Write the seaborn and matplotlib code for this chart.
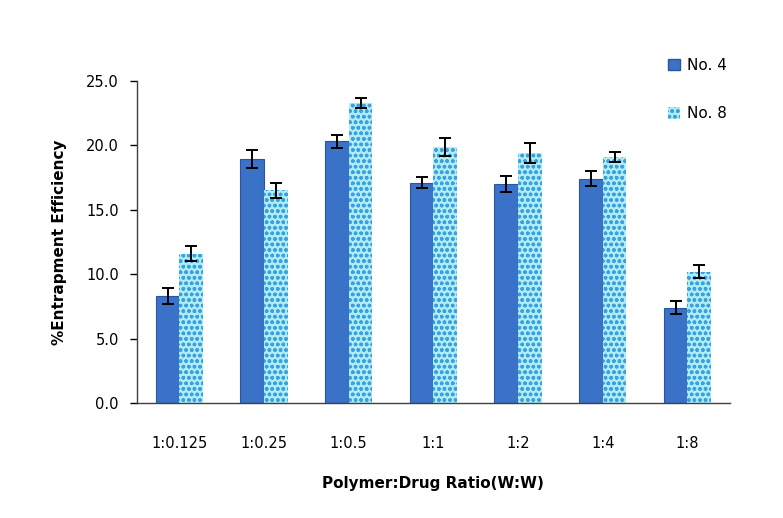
import numpy as np
import pandas as pd
import matplotlib
matplotlib.use("Agg")
import matplotlib.pyplot as plt
import seaborn as sns
from matplotlib.patches import Patch

# values
ratios = ["1:0.125", "1:0.25", "1:0.5", "1:1", "1:2", "1:4", "1:8"]
no4 = [8.3, 18.9, 20.3, 17.1, 17.0, 17.4, 7.4]
no8 = [11.6, 16.5, 23.3, 19.9, 19.4, 19.1, 10.2]
no4_err = [0.6, 0.7, 0.5, 0.4, 0.6, 0.6, 0.5]
no8_err = [0.6, 0.6, 0.4, 0.7, 0.8, 0.4, 0.5]

df = pd.DataFrame({
    "ratio": ratios * 2,
    "batch": ["No. 4"] * len(ratios) + ["No. 8"] * len(ratios),
    "ee": no4 + no8,
})

sns.set_style("white")
plt.rcParams["font.family"] = ["DejaVu Sans"]
plt.rcParams["text.color"] = "black"
plt.rcParams["axes.labelcolor"] = "black"
plt.rcParams["xtick.color"] = "black"
plt.rcParams["ytick.color"] = "black"
plt.rcParams["hatch.linewidth"] = 1.0

fig = plt.figure(figsize=(7.83, 5.18), dpi=100)
ax = fig.add_axes([0.175, 0.222, 0.757, 0.622])

sns.barplot(data=df, x="ratio", y="ee", hue="batch", order=ratios,
            palette={"No. 4": "#3a72c8", "No. 8": "#b0ecf4"}, saturation=1,
            width=0.56, errorbar=None, ax=ax, legend=False)

# style bars + error bars
n = len(ratios)
for i, p in enumerate(ax.patches[:2 * n]):
    cx = p.get_x() + p.get_width() / 2
    if i < n:
        p.set_edgecolor("#2a56a0")
        p.set_linewidth(0.8)
        ax.errorbar(cx, no4[i], yerr=no4_err[i], color="black", capsize=4,
                    elinewidth=1.4, capthick=1.4)
    else:
        p.set_edgecolor("#3aa0e0")
        p.set_hatch("ooo")
        p.set_linewidth(0.0)
        ax.errorbar(cx, no8[i - n], yerr=no8_err[i - n], color="black", capsize=4,
                    elinewidth=1.4, capthick=1.4)

ax.set_ylim(0, 25)
ax.set_xlim(-0.5, n - 0.5)
ax.set_yticks(np.arange(0, 25.1, 5))
ax.set_yticklabels([f"{v:.1f}" for v in np.arange(0, 25.1, 5)])
ax.tick_params(axis="y", length=5, width=1, direction="out", left=True, pad=8, labelsize=10.5)
ax.tick_params(axis="x", length=0, pad=24, labelsize=10.5)
for s in ["top", "right"]:
    ax.spines[s].set_visible(False)
for s in ["left", "bottom"]:
    ax.spines[s].set_color("#404040")
    ax.spines[s].set_linewidth(1)

ax.set_xlabel("Polymer:Drug Ratio(W:W)", fontsize=11, fontweight="bold", labelpad=18)
ax.set_ylabel("%Entrapment Efficiency", fontsize=11, fontweight="bold", labelpad=14)

handles = [Patch(facecolor="#3a72c8", edgecolor="#2a56a0", label="No. 4"),
           Patch(facecolor="#b0ecf4", edgecolor="#3aa0e0", hatch="ooo", linewidth=0, label="No. 8")]
fig.legend(handles=handles, loc="upper left", bbox_to_anchor=(0.835, 0.915),
           frameon=False, fontsize=11, labelspacing=2.2, handlelength=0.8,
           handleheight=0.8, handletextpad=0.5)

fig.savefig("out.png", dpi=100)
